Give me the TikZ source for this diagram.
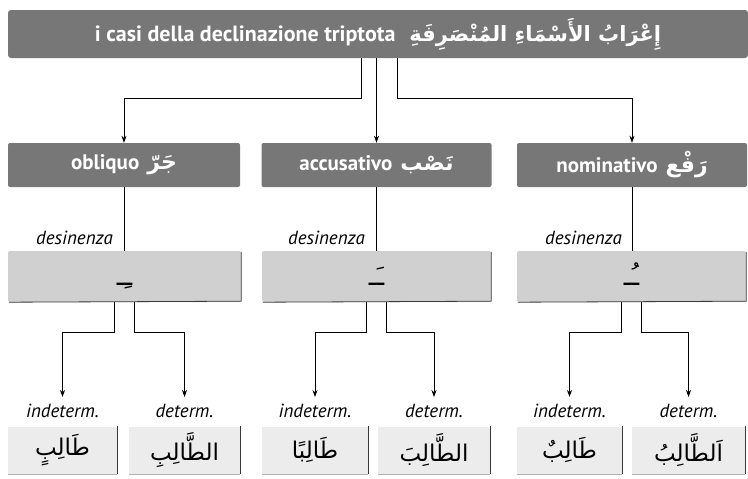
\documentclass[tikz,border=0pt]{standalone}
\usepackage{fontspec}
\setmainfont{PT Sans}
\newfontfamily\ar[Script=Arabic]{DejaVu Sans}
\TeXXeTstate=1
\usetikzlibrary{arrows.meta}
\definecolor{dark}{HTML}{777777}
\definecolor{light}{HTML}{D0D0D0}
\definecolor{pale}{HTML}{ECECEC}
\definecolor{edge}{HTML}{3A3A3A}
\tikzset{
  banner/.style={fill=dark, rounded corners=3pt, minimum width=740pt, minimum height=48pt,
    inner sep=0pt, text=white, font=\bfseries\fontsize{22}{26}\selectfont},
  casehead/.style={fill=dark, rounded corners=2pt, minimum height=44pt, inner sep=0pt,
    text=white, font=\bfseries\fontsize{21}{24}\selectfont},
  endbox/.style={fill=light, rounded corners=2pt, minimum height=51pt, inner sep=0pt,
    text height=18pt, text depth=0pt, font=\ar\fontsize{26}{30}\selectfont},
  wordbox/.style={fill=pale, minimum height=47pt, inner sep=0pt,
    font=\ar\fontsize{23}{27}\selectfont},
  lab/.style={font=\itshape\fontsize{19}{22}\selectfont, inner sep=0pt},
  conn/.style={line width=0.8pt, draw=black},
  arr/.style={conn, -{Stealth[length=7pt,width=5pt]}},
  rim/.style={line width=0.8pt, draw=edge}
}
\begin{document}
\begin{tikzpicture}[x=1pt,y=-1pt]
\useasboundingbox (0,0) rectangle (748,479);

% banner
\node[banner] (top) at (378,34) {i casi della declinazione triptota\hspace{14pt}{\ar\fontsize{21}{25}\selectfont\beginR إِعْرَابُ الأَسْمَاءِ المُنْصَرِفَةِ\endR}};

% case headers
\node[casehead, minimum width=232pt] (h1) at (124,165) {obliquo\hspace{8pt}{\ar\fontsize{22}{25}\selectfont\beginR جَرّ\endR}};
\node[casehead, minimum width=230pt] (h2) at (376.5,165) {accusativo\hspace{8pt}{\ar\fontsize{22}{25}\selectfont\beginR نَصْب\endR}};
\node[casehead, minimum width=230pt] (h3) at (632,165) {nominativo\hspace{8pt}{\ar\fontsize{22}{25}\selectfont\beginR رَفْع\endR}};

% banner connectors
\coordinate (s1) at (361,98);
\coordinate (s3) at (397,98);
\draw[arr] (top.south -| s1) -- (s1) -| (h1.north);
\draw[arr] (top.south -| h2.north) -- (h2.north);
\draw[arr] (top.south -| s3) -- (s3) -| (h3.north);

% ending boxes
\node[endbox, minimum width=233pt] (d1) at (124.5,276.5) {\beginR ـِـ\endR};
\node[endbox, minimum width=229pt] (d2) at (376.5,276.5) {\beginR ـَـ\endR};
\node[endbox, minimum width=229pt] (d3) at (631.5,276.5) {\beginR ـُـ\endR};
\foreach \d in {d1,d2,d3}{
  \draw[rim] ([yshift=-1pt]\d.north east) -- ([yshift=1pt]\d.south east) -- ([xshift=1pt]\d.south west);
}

% desinenza labels and stems
\node[lab, anchor=base east] (e1) at (113,244) {desinenza};
\node[lab, anchor=base east] (e2) at (365,244) {desinenza};
\node[lab, anchor=base east] (e3) at (622,244) {desinenza};
\draw[conn] (h1.south) -- (h1.south |- d1.north);
\draw[conn] (h2.south) -- (h2.south |- d2.north);
\draw[conn] (h3.south) -- (h3.south |- d3.north);

% determination labels
\node[lab] (l1) at (62.5,411) {indeterm.};
\node[lab] (l2) at (184.5,411) {determ.};
\node[lab] (l3) at (315,411) {indeterm.};
\node[lab] (l4) at (434,411) {determ.};
\node[lab] (l5) at (569.5,411) {indeterm.};
\node[lab] (l6) at (688.5,411) {determ.};

% branch arrows
\draw[arr] ([xshift=-10pt]d1.south) -- ++(0,30) -| ([yshift=7pt]l1.north);
\draw[arr] ([xshift=10pt]d1.south) -- ++(0,30) -| ([yshift=7pt]l2.north);
\draw[arr] ([xshift=-10pt]d2.south) -- ++(0,30) -| ([yshift=7pt]l3.north);
\draw[arr] ([xshift=10pt]d2.south) -- ++(0,30) -| ([yshift=7pt]l4.north);
\draw[arr] ([xshift=-10pt]d3.south) -- ++(0,30) -| ([yshift=7pt]l5.north);
\draw[arr] ([xshift=10pt]d3.south) -- ++(0,30) -| ([yshift=7pt]l6.north);

% word boxes
\node[wordbox, minimum width=109pt] (w1) at (62.5,450) {\beginR طَالِبٍ\endR};
\node[wordbox, minimum width=111pt] (w2) at (184.5,450) {\beginR الطَّالِبِ\endR};
\node[wordbox, minimum width=106pt] (w3) at (315,450) {\beginR طَالِبًا\endR};
\node[wordbox, minimum width=112pt] (w4) at (434,450) {\beginR الطَّالِبَ\endR};
\node[wordbox, minimum width=105pt] (w5) at (569.5,450) {\beginR طَالِبٌ\endR};
\node[wordbox, minimum width=113pt] (w6) at (688.5,450) {\beginR اَلطَّالِبُ\endR};
\foreach \w in {w1,w2,w3,w4,w5,w6}{
  \draw[rim] (\w.north east) -- (\w.south east);
  \draw[line width=0.4pt, draw=gray!60] (\w.south east) -- (\w.south west);
}
\end{tikzpicture}
\end{document}
